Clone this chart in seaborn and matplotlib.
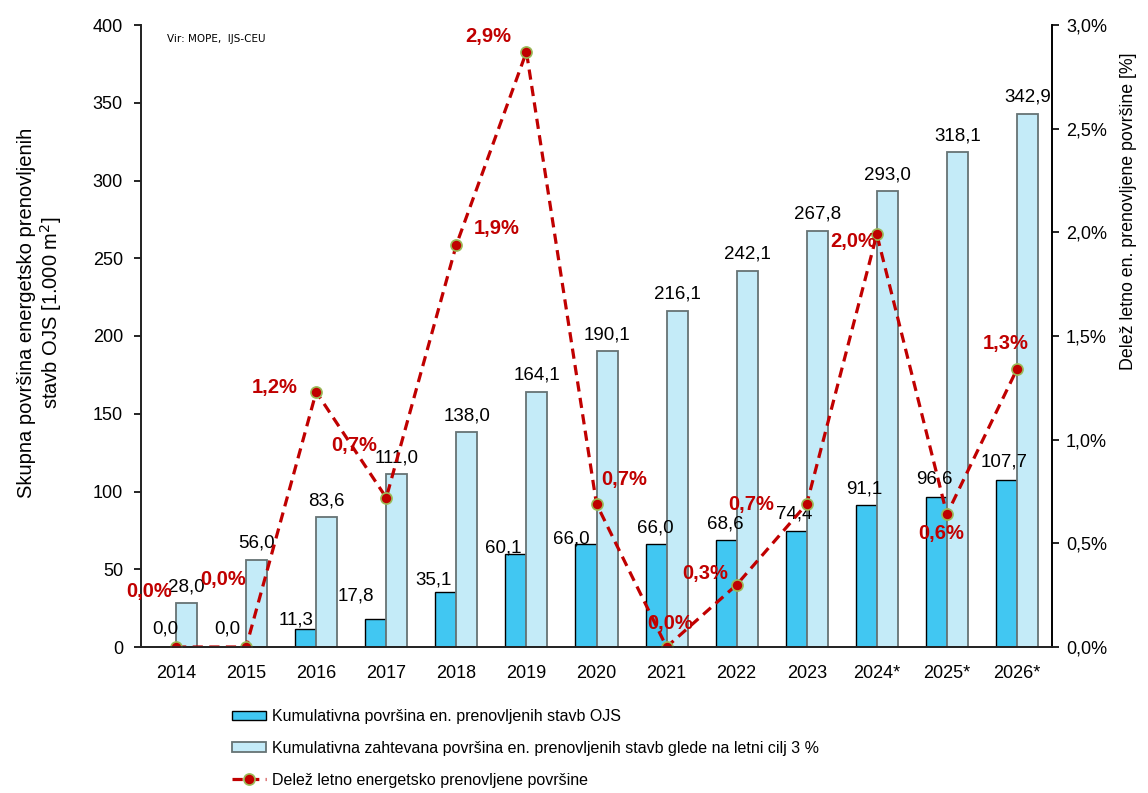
import numpy as np
import pandas as pd
import matplotlib
matplotlib.use("Agg")
import matplotlib.pyplot as plt
import seaborn as sns

# data
years = ["2014", "2015", "2016", "2017", "2018", "2019", "2020", "2021", "2022", "2023", "2024*", "2025*", "2026*"]
area_actual = [0.0, 0.0, 11.3, 17.8, 35.1, 60.1, 66.0, 66.0, 68.6, 74.4, 91.1, 96.6, 107.7]
area_target = [28.0, 56.0, 83.6, 111.0, 138.0, 164.1, 190.1, 216.1, 242.1, 267.8, 293.0, 318.1, 342.9]
share_pct = [0.0, 0.0, 1.23, 0.72, 1.94, 2.87, 0.69, 0.0, 0.30, 0.69, 1.99, 0.64, 1.34]

lab_actual = "Kumulativna površina en. prenovljenih stavb OJS"
lab_target = "Kumulativna zahtevana površina en. prenovljenih stavb glede na letni cilj 3 %"
lab_share = "Delež letno energetsko prenovljene površine"

# label placement tweaks (pixels), roughly as in the original
dark_off = [(0, 13), (-8, 13), (-10, 5), (-20, 19), (-12, 8), (-13, 1), (-15, 1),
            (-1, 12), (-1, 12), (-2, 13), (-2, 12), (-2, 13), (-2, 13)]
pct_off = [(-27, 56), (-23, 67), (-42, 4), (-32, 52), (40, 16), (-38, 15), (28, 24),
           (4, 23), (-31, 11), (-56, -1), (-24, -7), (-6, -19), (-11, 26)]

df = pd.DataFrame({
    "year": years * 2,
    "value": area_actual + area_target,
    "series": [lab_actual] * len(years) + [lab_target] * len(years),
})

sns.set_theme(style="ticks")
plt.rcParams['font.family'] = ['Liberation Sans', 'DejaVu Sans']
plt.rcParams['text.color'] = 'black'
plt.rcParams['axes.labelcolor'] = 'black'
plt.rcParams['xtick.color'] = 'black'
plt.rcParams['ytick.color'] = 'black'

dark = "#41C7F2"
light = "#C4EBF8"
red = "#C00000"

fig = plt.figure(figsize=(11.48, 7.93), dpi=100)
ax = fig.add_axes([141 / 1148, 1 - 647 / 793, 911 / 1148, 622 / 793])

sns.barplot(data=df, x="year", y="value", hue="series", palette=[dark, light],
            width=0.6, gap=0, dodge=True, legend=False, ax=ax, saturation=1)

for patch in ax.containers[0]:
    patch.set_edgecolor("black")
    patch.set_linewidth(1.0)
for patch in ax.containers[1]:
    patch.set_edgecolor("#667374")
    patch.set_linewidth(1.3)

fmt = lambda v: f"{v:.1f}".replace(".", ",")

for i, v in enumerate(area_actual):
    dx, dy = dark_off[i]
    ax.annotate(fmt(v), (i - 0.15, v), xytext=(dx, dy), textcoords="offset pixels",
                ha="center", va="baseline", fontsize=13.5, color="black")
for i, v in enumerate(area_target):
    ax.annotate(fmt(v), (i + 0.15, v), xytext=(0, 12), textcoords="offset pixels",
                ha="center", va="baseline", fontsize=13.5, color="black")

ax.set_ylim(0, 400)
ax.set_yticks(np.arange(0, 401, 50))
ax.set_xlabel("")
ax.set_ylabel("Skupna površina energetsko prenovljenih\nstavb OJS [1.000 m$^2$]", fontsize=14.5,
              linespacing=1.15)
ax.yaxis.set_label_coords(-0.084, 0.537)
ax.tick_params(axis="x", length=0, pad=13, labelsize=13)
ax.tick_params(axis="y", length=5, width=1.2, pad=8, labelsize=13)
ax.spines["top"].set_visible(False)
for s in ["left", "bottom", "right"]:
    ax.spines[s].set_linewidth(1.2)
    ax.spines[s].set_color("black")

ax2 = ax.twinx()
sns.lineplot(x=np.arange(len(years)), y=share_pct, ax=ax2, color=red, linewidth=2.3,
             linestyle=(0, (3.2, 2.0)), marker="o", markersize=8,
             markerfacecolor=red, markeredgecolor="#9BBB59", markeredgewidth=1.2,
             label=lab_share, legend=False)
ax2.set_ylim(0, 3.0)
ax2.set_yticks(np.arange(0, 3.01, 0.5))
ax2.set_yticklabels([f"{t:.1f}%".replace(".", ",") for t in np.arange(0, 3.01, 0.5)])
ax2.tick_params(axis="y", length=5, width=1.2, pad=5, labelsize=13)
ax2.spines["top"].set_visible(False)
ax2.spines["right"].set_linewidth(1.2)
ax2.spines["right"].set_color("black")
ax2.set_ylabel("Delež letno en. prenovljene površine [%]", fontsize=12.8)
ax2.yaxis.set_label_coords(1.0745, 0.70)

for i, v in enumerate(share_pct):
    dx, dy = pct_off[i]
    ax2.annotate(fmt(v) + "%", (i, v), xytext=(dx, dy), textcoords="offset pixels",
                 ha="center", va="center", fontsize=14.5, fontweight="bold", color=red)

ax.set_xlim(-0.5, len(years) - 0.5)

ax.text(0.029, 0.985, "Vir: MOPE,  IJS-CEU", transform=ax.transAxes, fontsize=7.5,
        family=['DejaVu Sans'], ha="left", va="top")

handles = [ax.containers[0][0], ax.containers[1][0], ax2.get_lines()[0]]
fig.legend(handles, [lab_actual, lab_target, lab_share], loc="upper left",
           bbox_to_anchor=(232 / 1148, 1 - 709 / 793), frameon=False,
           prop={"size": 11.5}, handlelength=2.1, handleheight=0.55,
           handletextpad=0.4, labelspacing=1.05, borderpad=0, borderaxespad=0)

fig.savefig("out.png", dpi=100)
